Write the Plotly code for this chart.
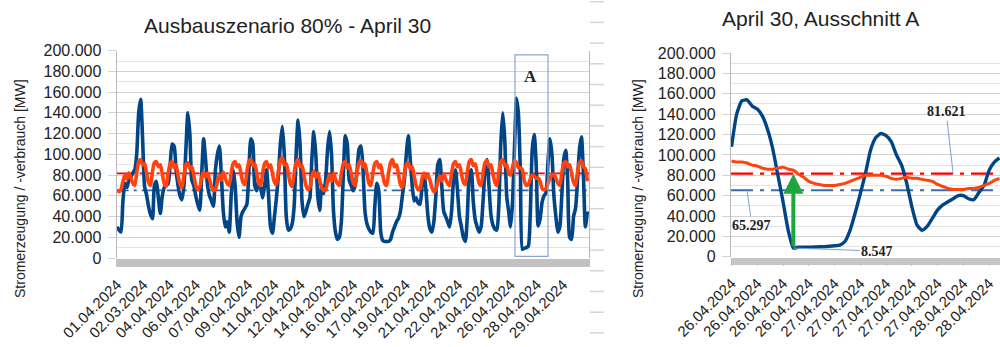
import plotly.graph_objects as go

# ---------------- data ----------------
left_x_labels = ["01.04.2024", "02.03.2024", "04.04.2024", "06.04.2024", "07.04.2024",
                 "09.04.2024", "11.04.2024", "12.04.2024", "14.04.2024", "16.04.2024",
                 "17.04.2024", "19.04.2024", "21.04.2024", "22.04.2024", "24.04.2024",
                 "26.04.2024", "28.04.2024", "29.04.2024"]
right_x_labels = ["26.04.2024", "26.04.2024", "26.04.2024", "26.04.2024",
                  "27.04.2024", "27.04.2024", "27.04.2024", "27.04.2024", "27.04.2024",
                  "28.04.2024", "28.04.2024"]

# generation (blue), thousand MW, 3-hourly, April 1..30
erzeugung_k = [
    30, 27, 25, 55, 72, 68, 75, 78,
    82, 85, 100, 140, 153, 115, 69, 61,
    50, 42, 38, 70, 74, 58, 43, 60,
    68, 70, 72, 90, 110, 108, 85, 70,
    60, 56, 70, 105, 140, 120, 75, 70,
    60, 52, 46, 80, 115, 95, 70, 60,
    55, 50, 85, 100, 108, 80, 45, 30,
    35, 25, 60, 85, 70, 35, 20, 40,
    45, 48, 52, 85, 115, 110, 70, 65,
    75, 68, 58, 70, 85, 60, 30, 24,
    40, 58, 80, 110, 127, 100, 40, 27,
    28, 33, 50, 100, 133, 110, 55, 40,
    45, 52, 58, 95, 122, 100, 60, 46,
    70, 62, 75, 105, 122, 100, 45, 25,
    18, 20, 35, 80, 118, 110, 75, 70,
    65, 70, 85, 105, 108, 85, 45, 33,
    28, 25, 24, 50, 72, 65, 25, 17,
    16, 16, 16, 18, 25, 30, 35, 38,
    45, 60, 75, 100, 118, 95, 70, 55,
    58, 53, 52, 70, 80, 65, 40, 28,
    25, 35, 60, 90, 95, 70, 45, 40,
    35, 30, 45, 75, 85, 65, 40, 30,
    20, 16, 40, 80, 85, 55, 37, 30,
    25, 30, 55, 85, 95, 70, 42, 32,
    28, 27, 50, 110, 140, 115, 60, 45,
    30, 55, 108, 154, 138, 80, 8.5, 9.5,
    10, 11.5, 43, 105, 119, 90, 31, 38,
    54, 60, 63, 93, 115, 100, 60, 40,
    25, 30, 60, 95, 104, 75, 20, 18,
    40, 48, 75, 105, 117, 80, 30, 45,
]
# consumption (orange-red), thousand MW, 3-hourly
verbrauch_k = [
    66, 64, 66, 74, 80, 76, 82, 78,
    72, 70, 82, 93, 95, 90, 91, 82,
    73, 70, 83, 92, 93, 88, 90, 81,
    72, 69, 82, 91, 93, 87, 90, 80,
    71, 68, 80, 90, 92, 86, 88, 80,
    70, 66, 68, 78, 83, 78, 82, 76,
    69, 65, 66, 74, 80, 75, 83, 77,
    72, 70, 82, 91, 93, 88, 90, 81,
    73, 71, 83, 93, 95, 89, 91, 82,
    72, 70, 82, 91, 93, 87, 90, 81,
    73, 71, 84, 94, 97, 90, 91, 82,
    72, 69, 82, 92, 95, 88, 89, 80,
    70, 66, 68, 79, 84, 78, 82, 75,
    68, 65, 66, 74, 80, 74, 82, 76,
    72, 70, 82, 91, 93, 87, 90, 81,
    73, 70, 83, 92, 94, 88, 91, 82,
    72, 70, 82, 91, 93, 87, 90, 80,
    72, 70, 82, 92, 95, 88, 90, 81,
    71, 68, 80, 90, 92, 86, 88, 79,
    70, 66, 67, 77, 82, 77, 80, 75,
    68, 64, 66, 74, 79, 74, 81, 76,
    72, 70, 82, 91, 93, 88, 90, 81,
    73, 71, 83, 93, 95, 89, 91, 82,
    72, 70, 82, 92, 94, 88, 90, 81,
    73, 70, 83, 93, 95, 89, 90, 82,
    80, 88, 94, 92, 87, 87, 85, 74,
    70, 71, 76, 80, 79, 77, 77, 74,
    67, 66, 67, 72, 77, 80, 81, 77,
    72, 70, 82, 91, 93, 88, 90, 81,
    73, 70, 83, 92, 94, 88, 86, 74,
]
# Ausschnitt A, hourly (thousand MW)
erzeugung_a_k = [108, 140, 153, 154, 148, 145, 138, 125, 106, 80, 54, 26, 8.547,
                 9.5, 9.5, 9.5, 9.6, 9.8, 10, 10.3, 10.8, 11.5, 15, 26, 43, 62, 82,
                 105, 117, 121, 119, 113, 100, 90, 72, 49, 31, 26, 30, 38, 46, 51,
                 54, 57, 60, 60, 57, 56, 63, 70, 85, 93, 97]
verbrauch_a_k = [94, 93, 93, 92, 90, 89, 87, 86, 86, 87, 88, 86, 85, 81, 78, 74, 72,
                 71, 70, 70, 70, 71, 72, 74, 76, 78, 80, 80, 80, 80, 79, 77, 76, 77,
                 78, 77, 77, 76, 75, 74, 71, 69, 67, 66, 66, 66, 67, 67, 68, 70, 72,
                 75, 77]

mean_verbrauch = 81621
mean_erzeugung = 65297
min_erzeugung = 8547

step_hours = 3
hours_total = 720
label_every_left = 40
label_every_right = 5

# ---------------- helpers ----------------
erzeugung = [v * 1000 for v in erzeugung_k]
verbrauch = [v * 1000 for v in verbrauch_k]
erzeugung_a = [v * 1000 for v in erzeugung_a_k]
verbrauch_a = [v * 1000 for v in verbrauch_a_k]
x_left = [i * step_hours for i in range(len(erzeugung))]
x_right = list(range(len(erzeugung_a)))
min_idx = erzeugung_a.index(min(erzeugung_a))


def de(n):
    return f"{n:,}".replace(",", ".")


BLUE = "#004586"
RED = "#ff420e"
FONT = "Liberation Sans"
TXT = "#222222"
GRID = "#d3d3d3"
GRID_MINOR = "#e4e4e4"

fig = go.Figure()

# mean lines left
xl0, xl1 = -0.5, hours_total - 0.5
fig.add_trace(go.Scatter(x=[xl0, xl1], y=[mean_verbrauch] * 2, mode="lines",
                         line=dict(color="#ff0000", width=1.6, dash="14px,3px,3px,3px"),
                         xaxis="x", yaxis="y", hoverinfo="skip"))
fig.add_trace(go.Scatter(x=[xl0, xl1], y=[mean_erzeugung] * 2, mode="lines",
                         line=dict(color="#3465a4", width=1.8, dash="12px,5px,3px,5px"),
                         xaxis="x", yaxis="y", hoverinfo="skip"))
fig.add_trace(go.Scatter(x=x_left, y=erzeugung, mode="lines",
                         line=dict(color=BLUE, width=3.6, shape="spline", smoothing=0.6),
                         xaxis="x", yaxis="y"))
fig.add_trace(go.Scatter(x=x_left, y=verbrauch, mode="lines",
                         line=dict(color=RED, width=3.6, shape="spline", smoothing=0.6),
                         xaxis="x", yaxis="y"))

# right chart
xr0, xr1 = -0.1, len(x_right) - 0.9
fig.add_trace(go.Scatter(x=[xr0, xr1], y=[mean_verbrauch] * 2, mode="lines",
                         line=dict(color="#ff0000", width=2.4, dash="22px,7px,4px,7px"),
                         xaxis="x2", yaxis="y2", hoverinfo="skip"))
fig.add_trace(go.Scatter(x=[xr0, xr1], y=[mean_erzeugung] * 2, mode="lines",
                         line=dict(color="#3a6bb0", width=2.0, dash="22px,7px,4px,7px"),
                         xaxis="x2", yaxis="y2", hoverinfo="skip"))
fig.add_trace(go.Scatter(x=x_right, y=erzeugung_a, mode="lines",
                         line=dict(color=BLUE, width=3.4, shape="spline", smoothing=0.5),
                         xaxis="x2", yaxis="y2"))
fig.add_trace(go.Scatter(x=x_right, y=verbrauch_a, mode="lines",
                         line=dict(color=RED, width=3.0, shape="spline", smoothing=0.5),
                         xaxis="x2", yaxis="y2"))

H = 347.0


def py(pix):
    return (H - pix) / H


common_y = dict(range=[0, 200000], dtick=20000, tickformat=",", showgrid=True,
                gridcolor=GRID, gridwidth=1.2, zeroline=False, automargin=False,
                showline=True, linecolor="#b8b8b8", linewidth=1.2, mirror=True,
                ticks="outside", ticklen=8, tickcolor=GRID, ticklabelstandoff=3,
                tickfont=dict(family=FONT, size=16, color=TXT),
                minor=dict(dtick=10000, showgrid=True, gridcolor=GRID_MINOR, gridwidth=1))

common_x = dict(showgrid=False, zeroline=False, showline=False, tickmode="array",
                tickangle=-45, ticks="outside", ticklen=8, tickcolor="#c2c2c2",
                automargin=False, ticklabelstandoff=3,
                tickfont=dict(family=FONT, size=15, color=TXT))

fig.update_layout(
    width=1000, height=347, margin=dict(l=0, r=0, t=0, b=0, autoexpand=False),
    paper_bgcolor="white", plot_bgcolor="white", showlegend=False,
    separators=",.", font=dict(family=FONT, color=TXT),
    xaxis=dict(domain=[0.1167, 0.589], range=[xl0, xl1],
               tickvals=[i * label_every_left for i in range(len(left_x_labels))],
               ticktext=left_x_labels,
               minor=dict(tickmode="linear", tick0=-0.5, dtick=1, ticks="outside",
                          ticklen=8, tickcolor="#c2c2c2", tickwidth=1),
               anchor="y", **common_x),
    yaxis=dict(domain=[py(258), py(50.7)], anchor="x", **common_y),
    xaxis2=dict(domain=[0.731, 1.0], range=[xr0, xr1],
                tickvals=[i * label_every_right for i in range(len(right_x_labels))],
                ticktext=right_x_labels,
                minor=dict(tickmode="linear", tick0=0, dtick=1 / 6, ticks="outside",
                           ticklen=7, tickcolor="#c6c6c6", tickwidth=1),
                anchor="y2", **common_x),
    yaxis2=dict(domain=[py(256.8), py(53)], anchor="x2", **common_y),
)

# Box A in overview
box_start = 606.7
box_end = 657
fig.add_shape(type="rect", xref="x", yref="y", x0=box_start, x1=box_end, y0=1500, y1=196000,
              line=dict(color="#8aa6d0", width=1.2), fillcolor="rgba(0,0,0,0)")
fig.add_annotation(xref="x", yref="y", x=(box_start + box_end) / 2 - 2, y=175000, text="<b>A</b>",
                   showarrow=False, font=dict(family="Liberation Serif", size=17, color=TXT))

# titles
fig.add_annotation(xref="paper", yref="paper", x=0.2875, y=py(25), xanchor="center",
                   yanchor="middle", text="Ausbauszenario 80% - April 30",
                   showarrow=False, font=dict(family=FONT, size=21, color=TXT))
fig.add_annotation(xref="paper", yref="paper", x=0.82, y=py(18.5), xanchor="center",
                   yanchor="middle", text="April 30, Ausschnitt A",
                   showarrow=False, font=dict(family=FONT, size=21, color=TXT))
for xp in (0.020, 0.638):
    fig.add_annotation(xref="paper", yref="paper", x=xp, y=py(189), xanchor="center",
                       yanchor="middle", text="Stromerzeugung / -verbrauch [MW]", textangle=-90,
                       showarrow=False, font=dict(family=FONT, size=14, color=TXT))

# green arrow
fig.add_annotation(xref="x2", yref="y2", axref="x2", ayref="y2",
                   x=min_idx, y=mean_verbrauch, ax=min_idx, ay=min_erzeugung,
                   text="", showarrow=True, arrowhead=2, arrowsize=1.0, arrowwidth=4,
                   arrowcolor="#1ea53c")

# value labels with leader lines
lbl_font = dict(family="Liberation Serif", size=14, color=TXT)
fig.add_annotation(xref="x2", yref="y2", x=min_idx, y=min_erzeugung,
                   text="<b>" + de(min_erzeugung) + "</b>", showarrow=True, arrowhead=0,
                   arrowwidth=1, arrowcolor="#7f9fcf", ax=84, ay=3, font=lbl_font)
fig.add_annotation(xref="x2", yref="y2", x=43, y=mean_verbrauch,
                   text="<b>" + de(mean_verbrauch) + "</b>", showarrow=True, arrowhead=0,
                   arrowwidth=1, arrowcolor="#7f9fcf", ax=-7, ay=-62, font=lbl_font)
fig.add_annotation(xref="x2", yref="y2", x=3, y=mean_erzeugung,
                   text="<b>" + de(mean_erzeugung) + "</b>", showarrow=True, arrowhead=0,
                   arrowwidth=1, arrowcolor="#7f9fcf", ax=5, ay=35, font=lbl_font)

# faint grid stubs of a background chart between the two charts
for k in range(17):
    yy = py(1.7 + 20.7 * k)
    fig.add_shape(type="line", xref="paper", yref="paper", x0=0.590, x1=0.604, y0=yy, y1=yy,
                  line=dict(color="#d6d6d6", width=1.5))

fig.write_html("out.html")
